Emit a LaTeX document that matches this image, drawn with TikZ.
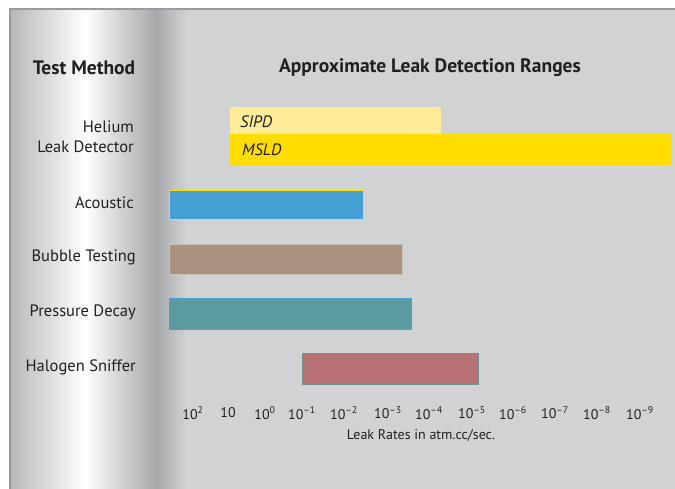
\documentclass[tikz,border=0pt]{standalone}
\usepackage{fontspec}
\setmainfont{PT Sans}

\definecolor{panel}{HTML}{D1D2D4}
\definecolor{rim}{HTML}{9A9B9F}
\definecolor{stripe}{HTML}{A6A7AA}
\definecolor{ink}{HTML}{231F20}
\definecolor{sipd}{HTML}{FEEB98}
\definecolor{msld}{HTML}{FFDD00}
\definecolor{acoustic}{HTML}{45A0D4}
\definecolor{bubble}{HTML}{A99280}
\definecolor{pressure}{HTML}{5A9BA1}
\definecolor{halogen}{HTML}{B77073}

\begin{document}
\begin{tikzpicture}[x=1pt, y=-1pt,
    head/.style={font=\bfseries\fontsize{19.5}{23}\selectfont, text=ink},
    method/.style={font=\fontsize{16.5}{20}\selectfont, text=ink, anchor=east, align=right, inner sep=0pt},
    barname/.style={font=\itshape\fontsize{16.5}{18}\selectfont, text=ink, anchor=west, inner sep=0pt},
    rate/.style={font=\fontsize{14}{16}\selectfont, text=ink, inner sep=0pt}]
    \useasboundingbox (0,0) rectangle (675,489);
    \fill[white] (0,0) rectangle (675,489);
    \fill[panel] (9,8) rectangle (675,489);

    % metallic strip on the left
    \shade[left color=stripe!80!white, right color=white] (11,10) rectangle (85,489);
    \shade[left color=white, right color=stripe] (85,10) rectangle (156,489);
    \shade[left color=stripe, right color=panel] (156,10) rectangle (186,489);
    \fill[rim] (9,8) rectangle (675,10);
    \fill[rim] (9,8) rectangle (11,489);

    \node[head] (method) at (84,68) {Test Method};
    \node[head] (ranges) at (430,68) {Approximate Leak Detection Ranges};

    \node[method] (helium) at (134,137) {Helium\\Leak Detector};
    \node[method] (acoustic) at (134,203) {Acoustic};
    \node[method] (bubble) at (136,257) {Bubble Testing};
    \node[method] (pressure) at (136,312) {Pressure Decay};
    \node[method] (halogen) at (136,367) {Halogen Sniffer};

    % bars
    \fill[sipd] (230,107) rectangle (441,137);
    \fill[msld] (230,134) rectangle (672,165);
    \filldraw[fill=acoustic, draw=msld, line width=0.8pt] (169,190) rectangle (363,219);
    \filldraw[fill=bubble, draw=bubble!60!white, line width=0.6pt] (169,244) rectangle (402,274);
    \filldraw[fill=pressure, draw=acoustic, line width=0.8pt] (169,298) rectangle (411,329);
    \filldraw[fill=halogen, draw=pressure!70!gray, line width=0.8pt] (302,353) rectangle (478,384);

    \node[barname] (sipdname) at (240,122) {SIPD};
    \node[barname] (msldname) at (242,150) {MSLD};

    % leak rate scale
    \node[rate] (r2) at (193,413) {10\textsuperscript{2}};
    \node[rate] (r1) at (228,413) {10};
    \node[rate] (r0) at (265,413) {10\textsuperscript{0}};
    \node[rate] (m1) at (302,413) {10\textsuperscript{\textendash1}};
    \node[rate] (m2) at (344,413) {10\textsuperscript{\textendash2}};
    \node[rate] (m3) at (388,413) {10\textsuperscript{\textendash3}};
    \node[rate] (m4) at (429,413) {10\textsuperscript{\textendash4}};
    \node[rate] (m5) at (472,413) {10\textsuperscript{\textendash5}};
    \node[rate] (m6) at (513,413) {10\textsuperscript{\textendash6}};
    \node[rate] (m7) at (555,413) {10\textsuperscript{\textendash7}};
    \node[rate] (m8) at (597,413) {10\textsuperscript{\textendash8}};
    \node[rate] (m9) at (640,413) {10\textsuperscript{\textendash9}};
    \node[rate] (unit) at (421,435) {Leak Rates in atm.cc/sec.};
\end{tikzpicture}
\end{document}
